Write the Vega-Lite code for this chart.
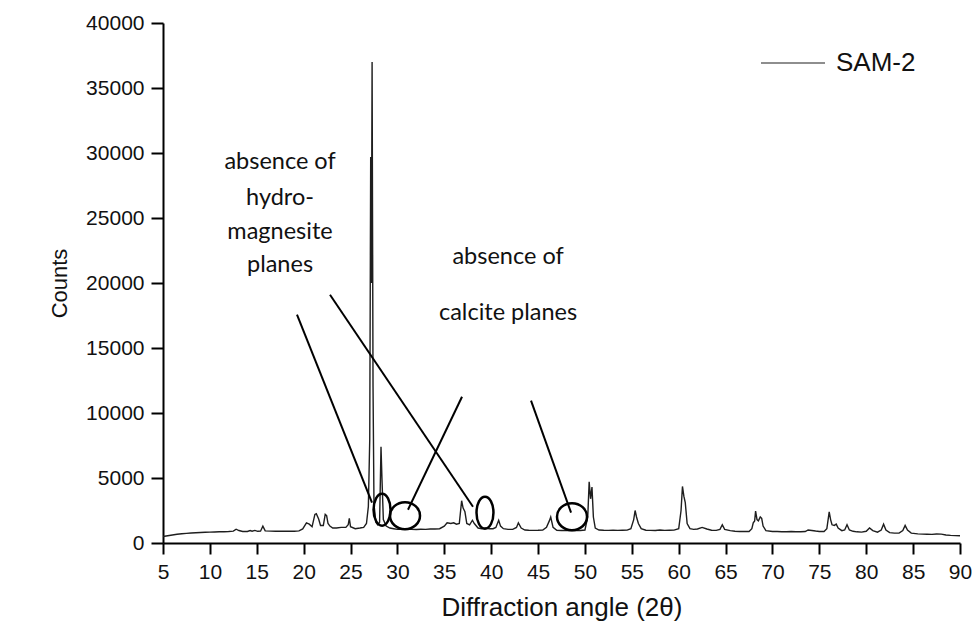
{
  "$schema": "https://vega.github.io/schema/vega-lite/v6.json",
  "width": 797,
  "height": 520,
  "autosize": {"type": "none"},
  "padding": {"left": 163, "top": 23, "right": 15, "bottom": 79},
  "background": "white",
  "config": {
    "view": {"stroke": null},
    "axis": {
      "domainColor": "#000",
      "domainWidth": 2,
      "tickColor": "#000",
      "tickWidth": 2,
      "grid": false,
      "labelFont": "Liberation Sans",
      "labelFontSize": 21,
      "labelColor": "#111",
      "titleFont": "Liberation Sans",
      "titleFontWeight": "normal",
      "titleColor": "#111"
    }
  },
  "datasets": {
    "xrd": [
      {"angle": 5.0, "counts": 500}, {"angle": 5.5, "counts": 560}, {"angle": 6.0, "counts": 620},
      {"angle": 6.5, "counts": 670}, {"angle": 7.0, "counts": 710}, {"angle": 7.5, "counts": 740},
      {"angle": 8.0, "counts": 770}, {"angle": 8.5, "counts": 790}, {"angle": 9.0, "counts": 810},
      {"angle": 9.5, "counts": 830}, {"angle": 10.0, "counts": 840}, {"angle": 10.5, "counts": 850},
      {"angle": 11.0, "counts": 860}, {"angle": 11.5, "counts": 870}, {"angle": 12.0, "counts": 880},
      {"angle": 12.5, "counts": 910}, {"angle": 12.8, "counts": 1060}, {"angle": 13.1, "counts": 960},
      {"angle": 13.5, "counts": 890}, {"angle": 14.0, "counts": 890}, {"angle": 14.3, "counts": 960},
      {"angle": 14.5, "counts": 910}, {"angle": 14.8, "counts": 970}, {"angle": 15.1, "counts": 900},
      {"angle": 15.4, "counts": 910}, {"angle": 15.65, "counts": 1300}, {"angle": 15.9, "counts": 930},
      {"angle": 16.5, "counts": 910}, {"angle": 17.0, "counts": 900}, {"angle": 17.5, "counts": 910},
      {"angle": 18.0, "counts": 900}, {"angle": 18.5, "counts": 910}, {"angle": 19.0, "counts": 900},
      {"angle": 19.5, "counts": 930}, {"angle": 19.9, "counts": 1080}, {"angle": 20.3, "counts": 1550},
      {"angle": 20.6, "counts": 1450}, {"angle": 20.9, "counts": 1250}, {"angle": 21.2, "counts": 2200},
      {"angle": 21.35, "counts": 2250}, {"angle": 21.6, "counts": 1850}, {"angle": 21.8, "counts": 1350},
      {"angle": 22.1, "counts": 1350}, {"angle": 22.3, "counts": 2200}, {"angle": 22.45, "counts": 2100},
      {"angle": 22.6, "counts": 1500}, {"angle": 22.8, "counts": 1300}, {"angle": 23.1, "counts": 1150},
      {"angle": 23.5, "counts": 1150}, {"angle": 24.0, "counts": 1200}, {"angle": 24.5, "counts": 1200},
      {"angle": 24.75, "counts": 1400}, {"angle": 24.87, "counts": 1900}, {"angle": 25.0, "counts": 1250},
      {"angle": 25.5, "counts": 1100}, {"angle": 26.0, "counts": 1150}, {"angle": 26.4, "counts": 1200},
      {"angle": 26.7, "counts": 1500}, {"angle": 26.9, "counts": 2800}, {"angle": 27.05, "counts": 8000},
      {"angle": 27.15, "counts": 29700}, {"angle": 27.22, "counts": 20000}, {"angle": 27.3, "counts": 37000},
      {"angle": 27.4, "counts": 12000}, {"angle": 27.5, "counts": 3000}, {"angle": 27.7, "counts": 1600},
      {"angle": 27.9, "counts": 1400}, {"angle": 28.1, "counts": 1600}, {"angle": 28.25, "counts": 7400},
      {"angle": 28.35, "counts": 5000}, {"angle": 28.5, "counts": 1800}, {"angle": 28.8, "counts": 1300},
      {"angle": 29.2, "counts": 1150}, {"angle": 29.6, "counts": 1100}, {"angle": 30.0, "counts": 1050},
      {"angle": 30.5, "counts": 1050}, {"angle": 31.0, "counts": 1080}, {"angle": 31.5, "counts": 1050},
      {"angle": 32.0, "counts": 1040}, {"angle": 32.5, "counts": 1060}, {"angle": 33.0, "counts": 1050},
      {"angle": 33.5, "counts": 1080}, {"angle": 34.0, "counts": 1080}, {"angle": 34.5, "counts": 1100},
      {"angle": 35.0, "counts": 1300}, {"angle": 35.3, "counts": 1550}, {"angle": 35.7, "counts": 1500},
      {"angle": 36.0, "counts": 1550}, {"angle": 36.3, "counts": 1450}, {"angle": 36.6, "counts": 1500},
      {"angle": 36.85, "counts": 3250}, {"angle": 37.0, "counts": 2700}, {"angle": 37.2, "counts": 2400},
      {"angle": 37.4, "counts": 1500}, {"angle": 37.7, "counts": 1400}, {"angle": 38.0, "counts": 1750},
      {"angle": 38.2, "counts": 1500}, {"angle": 38.6, "counts": 1150}, {"angle": 39.0, "counts": 1100},
      {"angle": 39.4, "counts": 1150}, {"angle": 39.8, "counts": 1100}, {"angle": 40.2, "counts": 1100},
      {"angle": 40.5, "counts": 1200}, {"angle": 40.8, "counts": 1750}, {"angle": 41.0, "counts": 1300},
      {"angle": 41.3, "counts": 1100}, {"angle": 41.8, "counts": 1050}, {"angle": 42.3, "counts": 1050},
      {"angle": 42.7, "counts": 1200}, {"angle": 42.9, "counts": 1550}, {"angle": 43.2, "counts": 1150},
      {"angle": 43.6, "counts": 1000}, {"angle": 44.0, "counts": 980}, {"angle": 44.5, "counts": 970},
      {"angle": 45.0, "counts": 980}, {"angle": 45.5, "counts": 1000}, {"angle": 45.9, "counts": 1200},
      {"angle": 46.2, "counts": 1700}, {"angle": 46.35, "counts": 2000}, {"angle": 46.6, "counts": 1200},
      {"angle": 47.0, "counts": 970}, {"angle": 47.5, "counts": 960}, {"angle": 48.0, "counts": 960},
      {"angle": 48.5, "counts": 950}, {"angle": 49.0, "counts": 950}, {"angle": 49.5, "counts": 960},
      {"angle": 50.0, "counts": 1000}, {"angle": 50.3, "counts": 2000}, {"angle": 50.45, "counts": 4700},
      {"angle": 50.6, "counts": 3400}, {"angle": 50.75, "counts": 4300}, {"angle": 50.9, "counts": 2000},
      {"angle": 51.1, "counts": 1150}, {"angle": 51.5, "counts": 1000}, {"angle": 52.0, "counts": 980},
      {"angle": 52.5, "counts": 970}, {"angle": 53.0, "counts": 980}, {"angle": 53.5, "counts": 970},
      {"angle": 54.0, "counts": 980}, {"angle": 54.5, "counts": 990}, {"angle": 54.9, "counts": 1100},
      {"angle": 55.2, "counts": 1800}, {"angle": 55.35, "counts": 2500}, {"angle": 55.5, "counts": 2000},
      {"angle": 55.7, "counts": 1500}, {"angle": 56.0, "counts": 1100}, {"angle": 56.5, "counts": 980},
      {"angle": 57.0, "counts": 970}, {"angle": 57.5, "counts": 960}, {"angle": 58.0, "counts": 1000},
      {"angle": 58.5, "counts": 970}, {"angle": 59.0, "counts": 980}, {"angle": 59.5, "counts": 990},
      {"angle": 60.0, "counts": 1100}, {"angle": 60.25, "counts": 2500}, {"angle": 60.4, "counts": 4350},
      {"angle": 60.55, "counts": 3600}, {"angle": 60.7, "counts": 3100}, {"angle": 60.9, "counts": 1500},
      {"angle": 61.2, "counts": 1100}, {"angle": 61.6, "counts": 1050}, {"angle": 62.0, "counts": 1080},
      {"angle": 62.5, "counts": 1200}, {"angle": 63.0, "counts": 1080}, {"angle": 63.5, "counts": 980},
      {"angle": 64.0, "counts": 970}, {"angle": 64.4, "counts": 1050}, {"angle": 64.65, "counts": 1400},
      {"angle": 64.9, "counts": 1050}, {"angle": 65.5, "counts": 950}, {"angle": 66.0, "counts": 900},
      {"angle": 66.5, "counts": 880}, {"angle": 67.0, "counts": 880}, {"angle": 67.5, "counts": 880},
      {"angle": 67.8, "counts": 1100}, {"angle": 67.95, "counts": 1550}, {"angle": 68.1, "counts": 1700},
      {"angle": 68.2, "counts": 2450}, {"angle": 68.35, "counts": 1800}, {"angle": 68.5, "counts": 1700},
      {"angle": 68.7, "counts": 2000}, {"angle": 68.85, "counts": 1900}, {"angle": 69.0, "counts": 1300},
      {"angle": 69.3, "counts": 950}, {"angle": 70.0, "counts": 880}, {"angle": 70.5, "counts": 880},
      {"angle": 71.0, "counts": 870}, {"angle": 71.5, "counts": 870}, {"angle": 72.0, "counts": 880},
      {"angle": 72.5, "counts": 870}, {"angle": 73.0, "counts": 870}, {"angle": 73.5, "counts": 880},
      {"angle": 73.8, "counts": 1000}, {"angle": 74.2, "counts": 960}, {"angle": 74.6, "counts": 920},
      {"angle": 75.0, "counts": 890}, {"angle": 75.5, "counts": 880}, {"angle": 75.8, "counts": 1100},
      {"angle": 76.05, "counts": 2400}, {"angle": 76.2, "counts": 1800}, {"angle": 76.35, "counts": 1400},
      {"angle": 76.6, "counts": 1350}, {"angle": 76.8, "counts": 1450}, {"angle": 77.0, "counts": 1150},
      {"angle": 77.4, "counts": 950}, {"angle": 77.7, "counts": 1000}, {"angle": 77.95, "counts": 1400},
      {"angle": 78.2, "counts": 1000}, {"angle": 78.6, "counts": 900}, {"angle": 79.0, "counts": 860},
      {"angle": 79.5, "counts": 840}, {"angle": 80.0, "counts": 900}, {"angle": 80.35, "counts": 1150},
      {"angle": 80.7, "counts": 950}, {"angle": 81.2, "counts": 830}, {"angle": 81.6, "counts": 1000},
      {"angle": 81.85, "counts": 1450}, {"angle": 82.1, "counts": 1000}, {"angle": 82.5, "counts": 800},
      {"angle": 83.0, "counts": 760}, {"angle": 83.5, "counts": 760}, {"angle": 83.9, "counts": 950},
      {"angle": 84.15, "counts": 1350}, {"angle": 84.4, "counts": 1000}, {"angle": 84.8, "counts": 760},
      {"angle": 85.5, "counts": 700}, {"angle": 86.0, "counts": 680}, {"angle": 86.5, "counts": 670},
      {"angle": 87.0, "counts": 660}, {"angle": 87.5, "counts": 690}, {"angle": 88.0, "counts": 680},
      {"angle": 88.5, "counts": 620}, {"angle": 89.0, "counts": 590}, {"angle": 89.5, "counts": 570},
      {"angle": 90.0, "counts": 560}
    ],
    "pointers": [
      {"x1": 19.29, "y1": 17562, "x2": 27.29, "y2": 3100},
      {"x1": 22.81, "y1": 19100, "x2": 38.06, "y2": 2792},
      {"x1": 36.89, "y1": 11254, "x2": 31.13, "y2": 2562},
      {"x1": 44.25, "y1": 10946, "x2": 48.52, "y2": 2331}
    ],
    "tallRings": [
      {"angle": 28.36, "counts": 2562},
      {"angle": 39.34, "counts": 2331}
    ],
    "wideRings": [
      {"angle": 30.81, "counts": 2100},
      {"angle": 48.62, "counts": 2023}
    ],
    "notes": [
      {"angle": 17.48, "counts": 29330, "text": "absence of"},
      {"angle": 17.48, "counts": 26560, "text": "hydro-"},
      {"angle": 17.48, "counts": 23946, "text": "magnesite"},
      {"angle": 17.48, "counts": 21407, "text": "planes"},
      {"angle": 41.8, "counts": 22023, "text": "absence of"},
      {"angle": 41.8, "counts": 17715, "text": "calcite planes"}
    ]
  },
  "layer": [
    {
      "data": {"name": "xrd"},
      "mark": {"type": "line", "strokeWidth": 1.4, "interpolate": "linear"},
      "encoding": {
        "x": {
          "field": "angle",
          "type": "quantitative",
          "scale": {"domain": [5, 90], "nice": false, "zero": false},
          "axis": {
            "title": "Diffraction angle (2θ)",
            "titleFontSize": 26,
            "titlePadding": 12,
            "values": [5, 7.5, 10, 12.5, 15, 17.5, 20, 22.5, 25, 27.5, 30, 32.5, 35, 37.5, 40, 42.5, 45, 47.5, 50, 52.5, 55, 57.5, 60, 62.5, 65, 67.5, 70, 72.5, 75, 77.5, 80, 82.5, 85, 87.5, 90],
            "labelExpr": "datum.value % 5 === 0 ? datum.label : ''",
            "tickSize": {"condition": {"test": "datum.value % 5 === 0", "value": 11}, "value": 6},
            "labelPadding": 7,
            "labelFlush": false,
            "labelOverlap": false
          }
        },
        "y": {
          "field": "counts",
          "type": "quantitative",
          "scale": {"domain": [0, 40000], "nice": false},
          "axis": {
            "title": "Counts",
            "titleFontSize": 22,
            "titlePadding": 14,
            "values": [0, 2500, 5000, 7500, 10000, 12500, 15000, 17500, 20000, 22500, 25000, 27500, 30000, 32500, 35000, 37500, 40000],
            "format": "d",
            "labelExpr": "datum.value % 5000 === 0 ? datum.label : ''",
            "tickSize": {"condition": {"test": "datum.value % 5000 === 0", "value": 12}, "value": 6},
            "labelPadding": 7,
            "labelOverlap": false
          }
        },
        "color": {
          "datum": "SAM-2",
          "type": "nominal",
          "scale": {"range": ["#1e1e1e"]},
          "legend": {
            "title": null,
            "orient": "none",
            "legendX": 597,
            "legendY": 7,
            "padding": 0,
            "symbolType": "stroke",
            "symbolSize": 4096,
            "symbolStrokeWidth": 1.2,
            "labelFont": "Liberation Sans",
            "labelFontSize": 26,
            "labelColor": "#111",
            "labelOffset": 10
          }
        }
      }
    },
    {
      "data": {"name": "pointers"},
      "mark": {"type": "rule", "color": "#000", "strokeWidth": 2},
      "encoding": {
        "x": {"field": "x1", "type": "quantitative"},
        "y": {"field": "y1", "type": "quantitative"},
        "x2": {"field": "x2"},
        "y2": {"field": "y2"}
      }
    },
    {
      "data": {"name": "tallRings"},
      "mark": {"type": "point", "filled": false, "stroke": "#000", "strokeWidth": 2.5, "opacity": 1, "size": 1024, "shape": "M0,-1A0.53,1 0 1,1 0,1A0.53,1 0 1,1 0,-1Z"},
      "encoding": {
        "x": {"field": "angle", "type": "quantitative"},
        "y": {"field": "counts", "type": "quantitative"}
      }
    },
    {
      "data": {"name": "wideRings"},
      "mark": {"type": "point", "filled": false, "stroke": "#000", "strokeWidth": 2.5, "opacity": 1, "size": 900, "shape": "M-1,0A1,0.9 0 1,1 1,0A1,0.9 0 1,1 -1,0Z"},
      "encoding": {
        "x": {"field": "angle", "type": "quantitative"},
        "y": {"field": "counts", "type": "quantitative"}
      }
    },
    {
      "data": {"name": "notes"},
      "mark": {"type": "text", "font": "Lato", "fontSize": 23.5, "color": "#111", "align": "center", "baseline": "middle"},
      "encoding": {
        "x": {"field": "angle", "type": "quantitative"},
        "y": {"field": "counts", "type": "quantitative"},
        "text": {"field": "text"}
      }
    }
  ]
}
